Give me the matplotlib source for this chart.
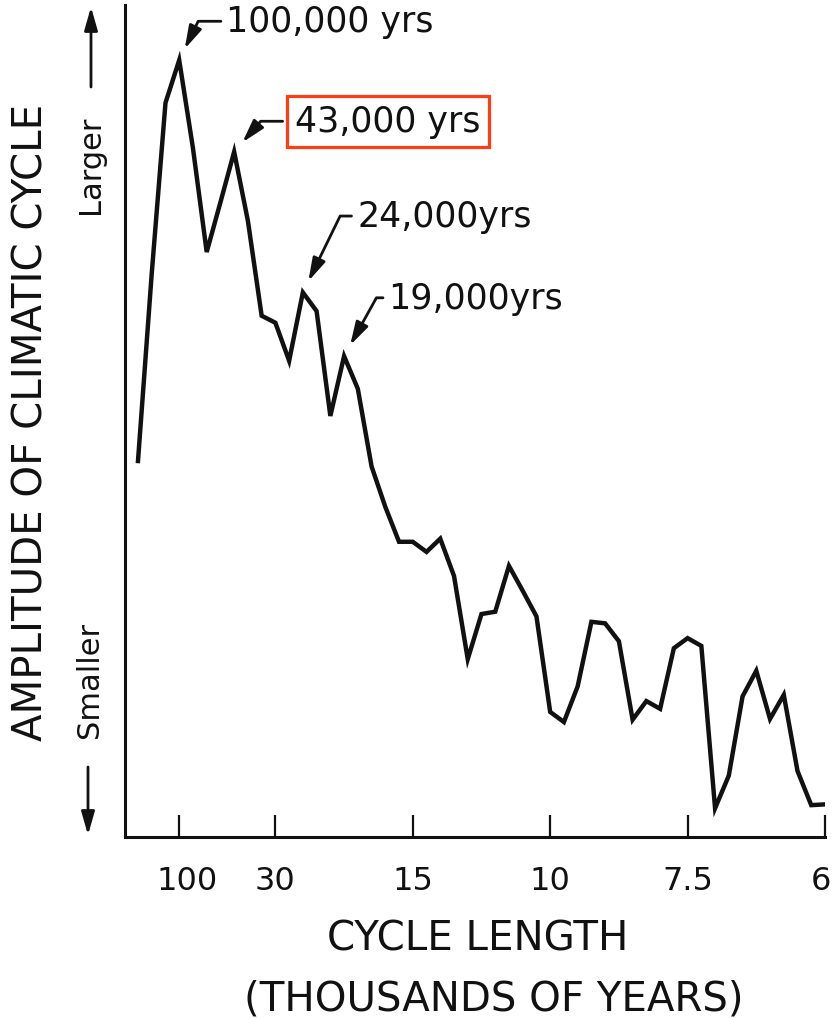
import matplotlib
matplotlib.use("Agg")
import matplotlib.pyplot as plt
from matplotlib.transforms import ScaledTranslation

# --- data: spectrum of the climate record (frequency in cycles per 1000 yrs) ---
freq = [0.0, 0.00333, 0.00667, 0.01, 0.01333, 0.01667, 0.02, 0.02333, 0.02667, 0.03,
        0.03333, 0.03667, 0.04, 0.04333, 0.04667, 0.05, 0.05333, 0.05667, 0.06, 0.06333,
        0.06667, 0.07, 0.07333, 0.07667, 0.08, 0.08333, 0.08667, 0.09, 0.09333, 0.09667,
        0.1, 0.10333, 0.10667, 0.11, 0.11333, 0.11667, 0.12, 0.12333, 0.12667, 0.13,
        0.13333, 0.13667, 0.14, 0.14333, 0.14667, 0.15, 0.15333, 0.15667, 0.16, 0.16333,
        0.16667]
amplitude = [48.4, 72.5, 94.5, 100.0, 88.7, 75.3, 81.7, 88.2, 79.3, 67.1,
             66.2, 61.3, 70.1, 67.7, 54.2, 61.9, 57.7, 47.7, 42.5, 38.0,
             38.0, 36.7, 38.4, 33.6, 22.9, 28.7, 29.0, 34.9, 31.7, 28.4,
             16.1, 14.8, 19.4, 27.7, 27.5, 25.2, 15.1, 17.5, 16.5, 24.3,
             25.6, 24.6, 3.7, 7.9, 18.1, 21.4, 15.2, 18.3, 8.5, 4.1,
             4.2]

tick_periods = [100, 30, 15, 10, 7.5, 6]
tick_labels = ["100", "30", "15", "10", "7.5", "6"]

# peaks to annotate: (index into data, label)
peak_idx = [3, 7, 12, 15]
peak_text = ["100,000 yrs", "43,000 yrs", "24,000yrs", "19,000yrs"]

W, H = 835, 1020


def px(x, y):
    # pixel position (from top-left) -> figure fraction
    return x / W, 1 - y / H


plt.rcParams['font.family'] = ['DejaVu Sans']
ink = '#111111'

fig = plt.figure(figsize=(W / 100, H / 100), dpi=100)
ax = fig.add_axes([125 / W, (H - 838) / H, (825 - 125) / W, (838 - 6) / H])

ax.plot(freq, amplitude, color=ink, lw=3.2, solid_joinstyle='miter')

ax.set_xlim(-0.00315, 0.16667)
ax.set_ylim(0, 107.1)

for s in ['top', 'right']:
    ax.spines[s].set_visible(False)
for s in ['left', 'bottom']:
    ax.spines[s].set_linewidth(2.2)
    ax.spines[s].set_color(ink)

ax.set_xticks([1 / p for p in tick_periods])
ax.set_xticklabels(tick_labels)
ax.set_yticks([])
ax.tick_params(axis='x', direction='in', length=16, width=1.6, pad=20,
               labelsize=23, color=ink, labelcolor=ink)
# the "100" label sits a little right of its tick in the original, "6" a bit left
labs = ax.get_xticklabels()
labs[0].set_transform(labs[0].get_transform() + ScaledTranslation(8 / 100, 0, fig.dpi_scale_trans))
labs[-1].set_transform(labs[-1].get_transform() + ScaledTranslation(-4 / 100, 0, fig.dpi_scale_trans))

# --- peak labels with bent arrows ---
offsets = [(34, 28), (44, 22), (39, 55), (32, 42)]
angles = [64, 49, 64, 61]
for i, (k, txt) in enumerate(zip(peak_idx, peak_text)):
    bbox = None
    if i == 1:
        bbox = dict(boxstyle='square,pad=0.25', fc='white', ec='#ff3d12', lw=2.3)
    ax.annotate(txt, xy=(freq[k], amplitude[k]), xytext=offsets[i],
                textcoords='offset points', ha='left', va='center',
                fontsize=25, color=ink, bbox=bbox, annotation_clip=False,
                arrowprops=dict(arrowstyle='-|>,head_length=0.7,head_width=0.2',
                                connectionstyle=f'angle,angleA=0,angleB={angles[i]},rad=0',
                                color=ink, lw=2.0, mutation_scale=20,
                                shrinkA=2, shrinkB=9))

# --- axis titles ---
fig.text(*px(32, 422), "AMPLITUDE OF CLIMATIC CYCLE", rotation=90,
         ha='center', va='center', fontsize=29, color=ink)
fig.text(*px(91, 165), "Larger", rotation=90, ha='center', va='center',
         fontsize=22, color=ink)
fig.text(*px(90, 680), "Smaller", rotation=90, ha='center', va='center',
         fontsize=22, color=ink)
arrow_kw = dict(arrowstyle='-|>,head_length=0.7,head_width=0.2', color=ink,
                lw=2.0, mutation_scale=20, shrinkA=0, shrinkB=0)
fig.add_artist(matplotlib.patches.FancyArrowPatch(px(91, 88), px(91, 8),
                                                  transform=fig.transFigure, **arrow_kw))
fig.add_artist(matplotlib.patches.FancyArrowPatch(px(88, 768), px(88, 836),
                                                  transform=fig.transFigure, **arrow_kw))

fig.text(*px(478, 940), "CYCLE LENGTH", ha='center', va='center',
         fontsize=29, color=ink)
fig.text(*px(494, 1000), "(THOUSANDS OF YEARS)", ha='center', va='center',
         fontsize=29, color=ink)

fig.savefig("out.png", dpi=100, facecolor='white')
